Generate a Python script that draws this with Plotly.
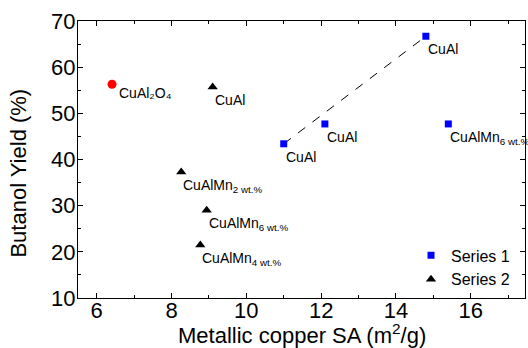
import plotly.graph_objects as go

# Series 1 (blue squares)
s1_x = [11.0, 12.1, 14.8, 15.4]
s1_y = [43.4, 47.7, 66.7, 47.7]
s1_labels = ["CuAl", "CuAl", "CuAl", "CuAlMn<sub>6 wt.%</sub>"]

# Series 2 (black triangles)
s2_x = [9.1, 8.26, 8.94, 8.77]
s2_y = [55.7, 37.3, 29.0, 21.5]
s2_labels = ["CuAl", "CuAlMn<sub>2 wt.%</sub>", "CuAlMn<sub>6 wt.%</sub>", "CuAlMn<sub>4 wt.%</sub>"]

# Red reference point
ref_x = [6.41]
ref_y = [56.3]
ref_labels = ["CuAl₂O₄"]

# Dashed trend line between two Series 1 points
trend_x = [11.0, 14.8]
trend_y = [43.4, 66.7]

x_ticks = [6, 8, 10, 12, 14, 16]
y_ticks = [10, 20, 30, 40, 50, 60, 70]

FONT = "Liberation Sans, Arial, sans-serif"

fig = go.Figure()
fig.add_trace(go.Scatter(x=trend_x, y=trend_y, mode="lines",
                         line=dict(color="black", width=1, dash="dash"),
                         showlegend=False, hoverinfo="skip"))
fig.add_trace(go.Scatter(x=ref_x, y=ref_y, mode="markers",
                         marker=dict(symbol="circle", color="red", size=9),
                         showlegend=False))
fig.add_trace(go.Scatter(x=s1_x, y=s1_y, mode="markers", name="Series 1",
                         marker=dict(symbol="square", color="blue", size=7)))
fig.add_trace(go.Scatter(x=s2_x, y=s2_y, mode="markers", name="Series 2",
                         marker=dict(symbol="triangle-up", color="black", size=9)))

for xs, ys, labs, dx, dy in [(s1_x, s1_y, s1_labels, 0, -3),
                             (s2_x, s2_y, s2_labels, 0, -3),
                             (ref_x, ref_y, ref_labels, 5, 1)]:
    for x, y, t in zip(xs, ys, labs):
        fig.add_annotation(x=x, y=y, text=t, showarrow=False,
                           xanchor="left", yanchor="top", xshift=dx, yshift=dy,
                           font=dict(family=FONT, size=14, color="black"))

# Axis titles as annotations for precise placement
fig.add_annotation(text="Metallic copper SA (m<sup>2</sup>/g)", xref="paper", yref="paper",
                   x=0.5, y=0, xanchor="center", yanchor="top", yshift=-20, showarrow=False,
                   font=dict(family=FONT, size=22, color="black"))
fig.add_annotation(text="Butanol Yield (%)", xref="paper", yref="paper",
                   x=0, y=0.451, xanchor="right", yanchor="middle", xshift=-45,
                   textangle=-90, showarrow=False,
                   font=dict(family=FONT, size=22, color="black"))

axis_common = dict(showline=True, linecolor="black", linewidth=1, mirror="ticks",
                   ticks="inside", ticklen=5, tickcolor="black", showgrid=False,
                   zeroline=False, automargin=False,
                   tickfont=dict(family=FONT, size=22, color="black"))

fig.update_xaxes(range=[5.5, 17.45], tickvals=x_ticks, ticklabelstandoff=-7,
                 minor=dict(ticks="inside", dtick=1, tick0=5, ticklen=3, tickcolor="black"),
                 **axis_common)
fig.update_yaxes(range=[10, 70], tickvals=y_ticks, ticklabelstandoff=-3,
                 minor=dict(ticks="inside", dtick=5, tick0=5, ticklen=3, tickcolor="black"),
                 **axis_common)

fig.update_layout(
    width=528, height=348,
    margin=dict(l=78, r=3, t=21, b=50),
    plot_bgcolor="white", paper_bgcolor="white",
    font=dict(family=FONT, color="black"),
    legend=dict(x=0.745, y=0.215, xanchor="left", yanchor="top",
                font=dict(family=FONT, size=16, color="black"),
                bgcolor="rgba(0,0,0,0)", tracegroupgap=0),
)

fig.write_html("out.html", config={"displayModeBar": False},
               post_script="document.body.style.margin='0';document.body.style.overflow='hidden';")
